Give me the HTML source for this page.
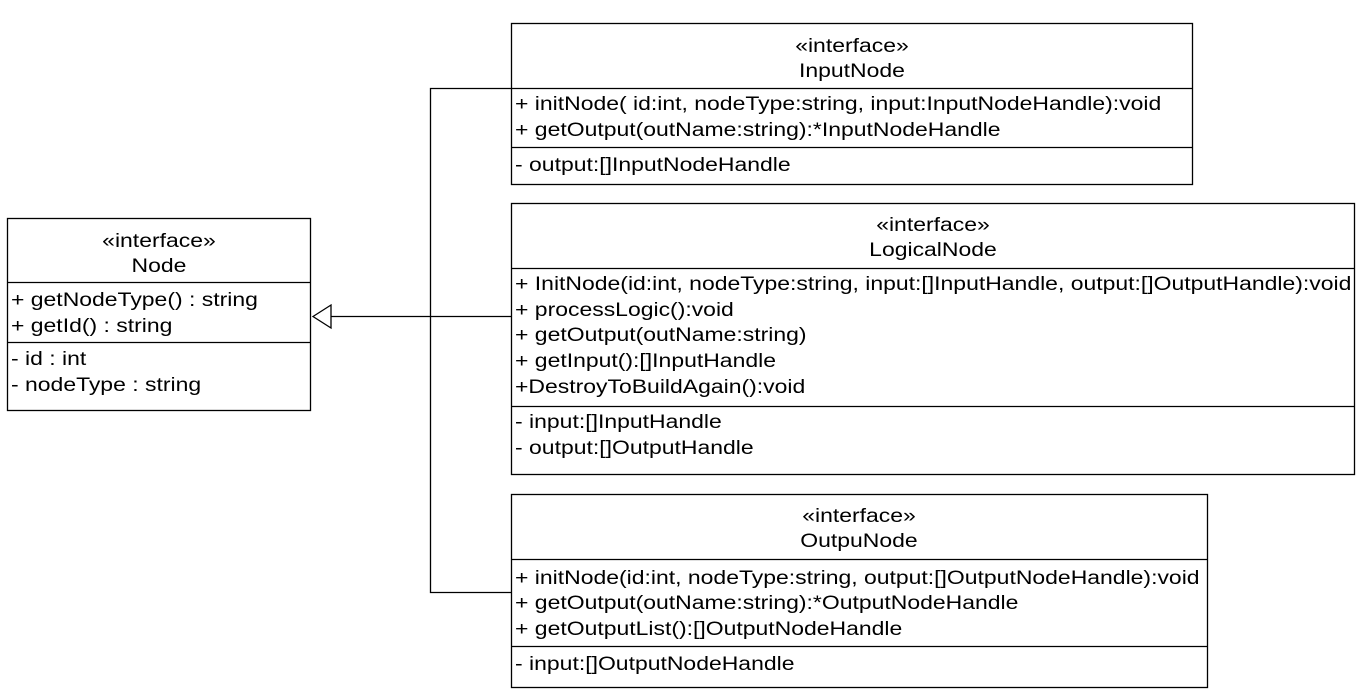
<!DOCTYPE html>
<html><head><meta charset="utf-8"><style>
html,body{margin:0;padding:0;background:#fff;}
svg{display:block}
text{font-family:"Liberation Sans",Arial,sans-serif;font-size:19px;fill:#000}
</style></head><body>
<svg width="1360" height="696" viewBox="0 0 1360 696">
<g fill="#fff" stroke="#000" stroke-width="1.3">
<rect x="7.5" y="218.5" width="303" height="192"/>
<line x1="7" y1="282.5" x2="311" y2="282.5"/>
<line x1="7" y1="342.5" x2="311" y2="342.5"/>
<rect x="511.5" y="23.5" width="681" height="161"/>
<line x1="511" y1="88.5" x2="1193" y2="88.5"/>
<line x1="511" y1="147.5" x2="1193" y2="147.5"/>
<rect x="511.5" y="203.5" width="843" height="271"/>
<line x1="511" y1="268.5" x2="1355" y2="268.5"/>
<line x1="511" y1="406.5" x2="1355" y2="406.5"/>
<rect x="511.5" y="494.5" width="696" height="193"/>
<line x1="511" y1="559.5" x2="1208" y2="559.5"/>
<line x1="511" y1="646.5" x2="1208" y2="646.5"/>
</g>
<g fill="none" stroke="#000" stroke-width="1.3">
<polyline points="511,88.5 430.5,88.5 430.5,592.5 511,592.5"/>
<line x1="331" y1="316.5" x2="511" y2="316.5"/>
<polygon points="313,316.5 331,305 331,328" fill="#fff"/>
</g>
<g transform="scale(1.209,1)">
<g text-anchor="middle">
<text x="131.5" y="247">«interface»</text><text x="131.5" y="272">Node</text>
<text x="704.7" y="52">«interface»</text><text x="704.7" y="77">InputNode</text>
<text x="771.7" y="231">«interface»</text><text x="771.7" y="256">LogicalNode</text>
<text x="710.5" y="522">«interface»</text><text x="710.5" y="547">OutpuNode</text>
</g>
<text x="9.1" y="306">+ getNodeType() : string</text>
<text x="9.1" y="332">+ getId() : string</text>
<text x="9.1" y="365">- id : int</text>
<text x="9.1" y="391">- nodeType : string</text>
<text x="426" y="110">+ initNode( id:int, nodeType:string, input:InputNodeHandle):void</text>
<text x="426" y="136">+ getOutput(outName:string):*InputNodeHandle</text>
<text x="426" y="171">- output:[]InputNodeHandle</text>
<text x="426" y="290">+ InitNode(id:int, nodeType:string, input:[]InputHandle, output:[]OutputHandle):void</text>
<text x="426" y="316">+ processLogic():void</text>
<text x="426" y="341">+ getOutput(outName:string)</text>
<text x="426" y="367">+ getInput():[]InputHandle</text>
<text x="426" y="393">+DestroyToBuildAgain():void</text>
<text x="426" y="428">- input:[]InputHandle</text>
<text x="426" y="454">- output:[]OutputHandle</text>
<text x="426" y="584">+ initNode(id:int, nodeType:string, output:[]OutputNodeHandle):void</text>
<text x="426" y="609">+ getOutput(outName:string):*OutputNodeHandle</text>
<text x="426" y="635">+ getOutputList():[]OutputNodeHandle</text>
<text x="426" y="670">- input:[]OutputNodeHandle</text>
</g>
</svg>
</body></html>
